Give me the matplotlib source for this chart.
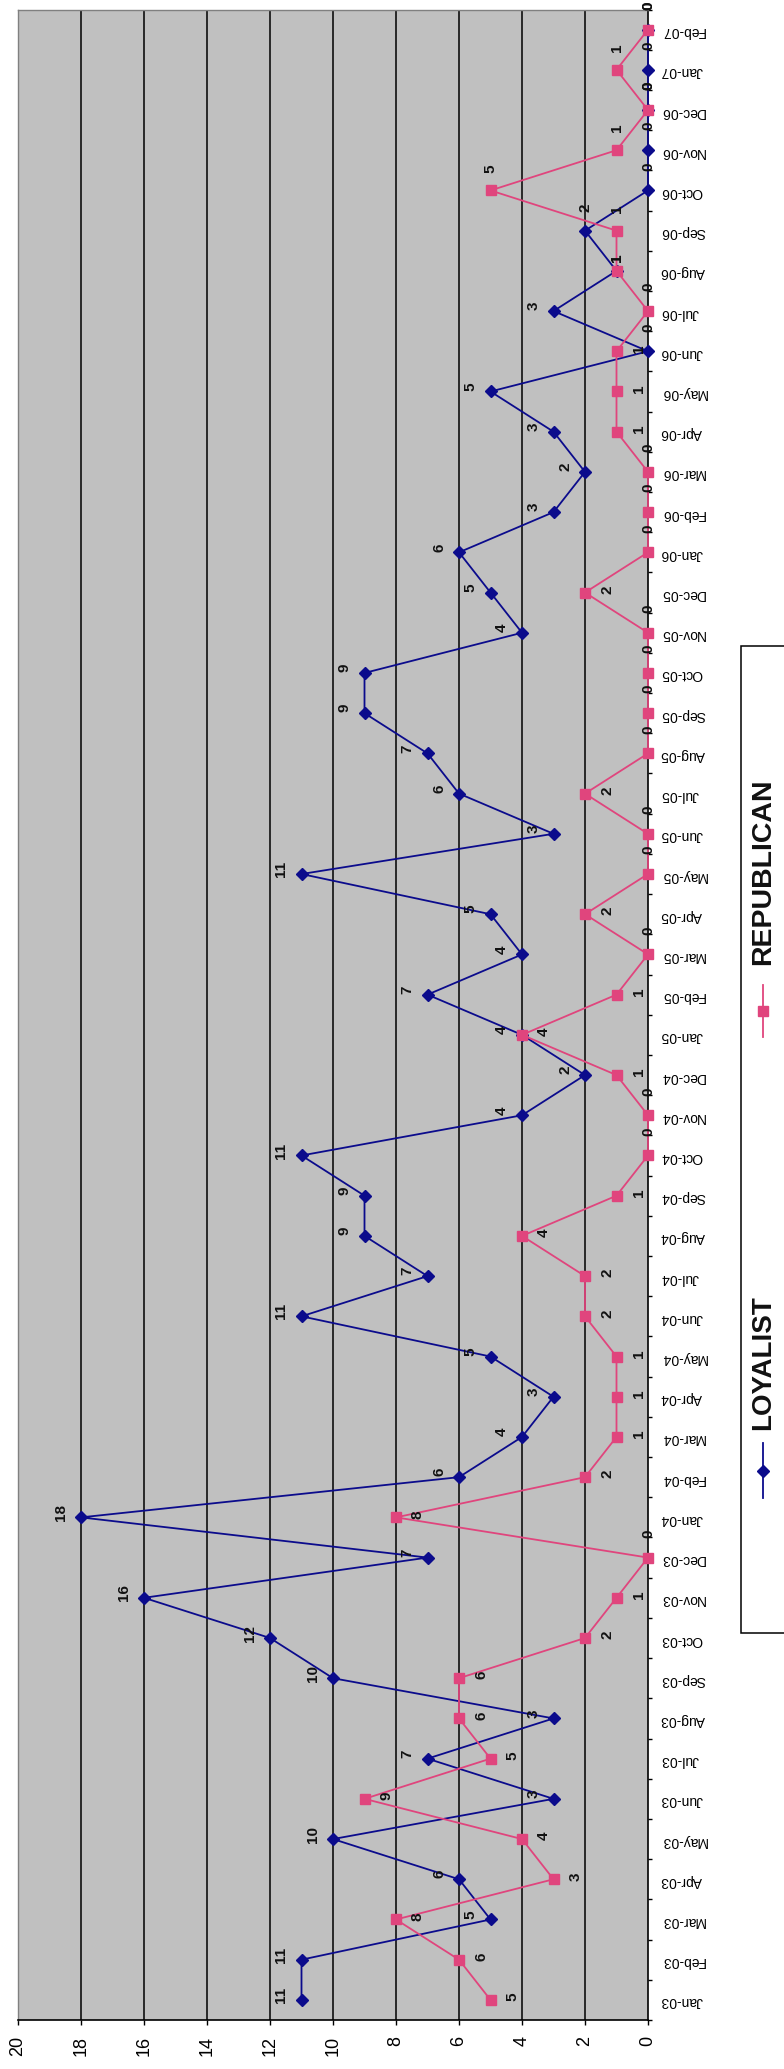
import matplotlib
matplotlib.use("Agg")
import matplotlib.pyplot as plt
from matplotlib.patches import Rectangle

# ---- data -------------------------------------------------------------
months = [
    "Jan-03", "Feb-03", "Mar-03", "Apr-03", "May-03", "Jun-03",
    "Jul-03", "Aug-03", "Sep-03", "Oct-03", "Nov-03", "Dec-03",
    "Jan-04", "Feb-04", "Mar-04", "Apr-04", "May-04", "Jun-04",
    "Jul-04", "Aug-04", "Sep-04", "Oct-04", "Nov-04", "Dec-04",
    "Jan-05", "Feb-05", "Mar-05", "Apr-05", "May-05", "Jun-05",
    "Jul-05", "Aug-05", "Sep-05", "Oct-05", "Nov-05", "Dec-05",
    "Jan-06", "Feb-06", "Mar-06", "Apr-06", "May-06", "Jun-06",
    "Jul-06", "Aug-06", "Sep-06", "Oct-06", "Nov-06", "Dec-06",
    "Jan-07", "Feb-07",
]
loyalist = [
    11, 11, 5, 6, 10, 3, 7, 3, 10, 12, 16, 7,
    18, 6, 4, 3, 5, 11, 7, 9, 9, 11, 4, 2,
    4, 7, 4, 5, 11, 3, 6, 7, 9, 9, 4, 5,
    6, 3, 2, 3, 5, 0, 3, 1, 2, 0, 0, 0,
    0, 0,
]
republican = [
    5, 6, 8, 3, 4, 9, 5, 6, 6, 2, 1, 0,
    8, 2, 1, 1, 1, 2, 2, 4, 1, 0, 0, 1,
    4, 1, 0, 2, 0, 0, 2, 0, 0, 0, 0, 2,
    0, 0, 0, 1, 1, 1, 0, 1, 1, 5, 1, 0,
    1, 0,
]
value_ticks = [0, 2, 4, 6, 8, 10, 12, 14, 16, 18, 20]

# ---- style ------------------------------------------------------------
NAVY = "#0B0B8C"
PINK = "#E0457D"
PLOT_BG = "#C0C0C0"
plt.rcParams["font.family"] = ["Liberation Sans", "DejaVu Sans"]

W, H = 784, 2069
fig = plt.figure(figsize=(W / 100, H / 100), dpi=100)
fig.patch.set_facecolor("white")


def px_box(left, top, right, bottom):
    return [left / W, 1 - bottom / H, (right - left) / W, (bottom - top) / H]


ax = fig.add_axes(px_box(18, 9.5, 648, 2020))
ax.set_facecolor(PLOT_BG)

pos = list(range(len(months)))

ax.plot(loyalist, pos, color=NAVY, lw=1.3, marker="D", ms=6.6,
        mfc=NAVY, mec=NAVY, zorder=3, clip_on=False)
ax.plot(republican, pos, color=PINK, lw=1.3, marker="s", ms=7.8,
        mfc=PINK, mec=PINK, zorder=4, clip_on=False)

ax.set_xlim(20, 0)
ax.set_ylim(-0.5, len(months) - 0.5)

# value axis (runs along the bottom, 0 on the right)
ax.set_xticks(value_ticks)
ax.set_xticklabels([str(v) for v in value_ticks], rotation=90, fontsize=13)
ax.tick_params(axis="x", direction="out", length=3.6, width=1.0,
               pad=8.0, colors="black")
ax.xaxis.grid(True, color="black", lw=1.1)
ax.set_axisbelow(True)
for v, gl in zip(value_ticks, ax.get_xgridlines()):
    if v in (0, 20):
        gl.set_visible(False)

# category axis (runs up the right-hand side)
ax.yaxis.tick_right()
ax.set_yticks([p - 0.5 for p in pos] + [len(months) - 0.5])
ax.set_yticklabels([])
ax.set_yticks(pos, minor=True)
ax.set_yticklabels(months, minor=True, rotation=180, fontsize=10)
ax.tick_params(axis="y", which="major", direction="out", length=3.0,
               width=1.0, colors="black")
ax.tick_params(axis="y", which="minor", length=0, pad=9.0)

for side in ("top", "left"):
    ax.spines[side].set_color("#808080")
    ax.spines[side].set_linewidth(1.0)
for side in ("right", "bottom"):
    ax.spines[side].set_color("black")
    ax.spines[side].set_linewidth(1.2)

# ---- value labels -----------------------------------------------------
default_offset = {"loy": (-20, 5), "rep": (22, 3)}
special_offset = {
    ("loy", 43): (0, 13), ("loy", 44): (0, 23),
    ("rep", 43): (0, 13), ("rep", 44): (0, 22), ("rep", 45): (0, 22),
    ("rep", 46): (0, 22), ("rep", 48): (0, 22),
}

for key, series in (("loy", loyalist), ("rep", republican)):
    for i, v in enumerate(series):
        if (key, i) in special_offset:
            off = special_offset[(key, i)]
        elif v == 0:
            off = (0, 24)
        else:
            off = default_offset[key]
        ax.annotate(str(v), xy=(v, i), xytext=off, textcoords="offset pixels",
                    rotation=90, ha="center", va="center", fontsize=11,
                    fontweight="bold", color="#111111",
                    annotation_clip=False, zorder=6)

# ---- legend -----------------------------------------------------------
lax = fig.add_axes([0, 0, 1, 1], zorder=5)
lax.set_xlim(0, W)
lax.set_ylim(H, 0)
lax.axis("off")
lax.add_patch(Rectangle((741, 646), 80, 987, facecolor="white",
                        edgecolor="black", lw=1.1, clip_on=False))

lax.plot([763, 763], [985, 1037], color=PINK, lw=1.3)
lax.plot([763], [1011], marker="s", ms=7.8, color=PINK)
lax.text(763, 872, "REPUBLICAN", rotation=90, ha="center", va="center",
         fontsize=20.5, fontweight="bold", color="#111111")

lax.plot([763, 763], [1443, 1498], color=NAVY, lw=1.3)
lax.plot([763], [1471], marker="D", ms=6.6, color=NAVY)
lax.text(763, 1363, "LOYALIST", rotation=90, ha="center", va="center",
         fontsize=20, fontweight="bold", color="#111111")

fig.savefig("out.png", dpi=100, facecolor="white")
